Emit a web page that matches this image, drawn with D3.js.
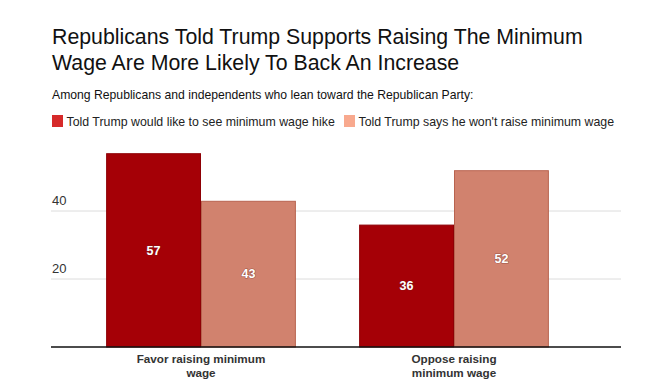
<!DOCTYPE html>
<html><head><meta charset="utf-8">
<script src="https://cdn.jsdelivr.net/npm/d3@7"></script>
<style>
body{margin:0;background:#fff;}
svg{font-family:"Liberation Sans",Arial,Helvetica,sans-serif;}
</style></head>
<body><svg id="c" width="650" height="390"></svg>
<script>
const categories = [["Favor raising minimum","wage"],["Oppose raising","minimum wage"]];
const seriesNames = ["Told Trump would like to see minimum wage hike","Told Trump says he won't raise minimum wage"];
const supportsHike = [57, 36];
const wontRaise = [43, 52];
const yTicks = [20, 40];

const fills = ["#a50006","#d1826e"];
const strokes = ["#8e0005","#b8634f"];
const legendColors = ["#d62a2a","#f8a98e"];

const svg = d3.select("#c");
const title = ["Republicans Told Trump Supports Raising The Minimum","Wage Are More Likely To Back An Increase"];
svg.selectAll("text.title").data(title).join("text")
  .attr("x",52).attr("y",(d,i)=>44+i*25.6)
  .attr("font-size",21.3).attr("fill","#111").text(d=>d);
svg.append("text").attr("x",52).attr("y",99).attr("font-size",12.2).attr("fill","#111")
  .text("Among Republicans and independents who lean toward the Republican Party:");

const legX = [52, 344];
const lg = svg.selectAll("g.leg").data(seriesNames).join("g").attr("transform",(d,i)=>`translate(${legX[i]},115)`);
lg.append("rect").attr("width",11).attr("height",12).attr("fill",(d,i)=>legendColors[i]);
lg.append("text").attr("x",14.5).attr("y",11.2).attr("font-size",12.35).attr("fill","#222").text(d=>d);

const y = d3.scaleLinear().domain([0,57]).range([347,153.2]);
const x0 = d3.scaleBand().domain(d3.range(categories.length)).range([74.5,580.5]).paddingInner(0.25).paddingOuter(0.125);
const x1 = d3.scaleBand().domain([0,1]).range([0,x0.bandwidth()]);

// gridlines
svg.append("g").selectAll("line").data(yTicks).join("line")
  .attr("x1",51).attr("x2",621).attr("y1",d=>y(d)).attr("y2",d=>y(d))
  .attr("stroke","#dcdcdc").attr("stroke-width",1);
svg.append("g").selectAll("text").data(yTicks).join("text")
  .attr("x",52).attr("y",d=>y(d)-6).attr("font-size",13).attr("fill","#333").text(d=>d);

const data = categories.map((c,i)=>[supportsHike[i],wontRaise[i]]);
const groups = svg.append("g").selectAll("g").data(data).join("g")
  .attr("transform",(d,i)=>`translate(${x0(i)},0)`);
groups.selectAll("rect").data(d=>d).join("rect")
  .attr("x",(d,j)=>x1(j)+0.5).attr("y",d=>y(d)+0.5)
  .attr("width",x1.bandwidth()-1).attr("height",d=>y(0)-y(d)-0.5)
  .attr("fill",(d,j)=>fills[j]).attr("stroke",(d,j)=>strokes[j]).attr("stroke-width",1);
groups.selectAll("text").data(d=>d).join("text")
  .attr("x",(d,j)=>x1(j)+x1.bandwidth()/2).attr("y",d=>(y(d)+y(0))/2+4.5)
  .attr("text-anchor","middle").attr("font-size",12.5).attr("font-weight","bold")
  .attr("fill","#fff").attr("stroke","#6b2a22").attr("stroke-width",1.2).attr("stroke-opacity",0.5)
  .attr("paint-order","stroke").text(d=>d);

// baseline
svg.append("line").attr("x1",51).attr("x2",621).attr("y1",347).attr("y2",347)
  .attr("stroke","#111").attr("stroke-width",1.3);

// category labels
const cl = svg.append("g").selectAll("text").data(categories).join("text")
  .attr("text-anchor","middle").attr("font-size",11.7).attr("font-weight","bold").attr("fill","#333");
cl.selectAll("tspan").data((d,i)=>d.map(s=>({s,i}))).join("tspan")
  .attr("x",d=>x0(d.i)+x0.bandwidth()/2).attr("y",(d,k)=>362.5+k*14.5).text(d=>d.s);
</script></body></html>
